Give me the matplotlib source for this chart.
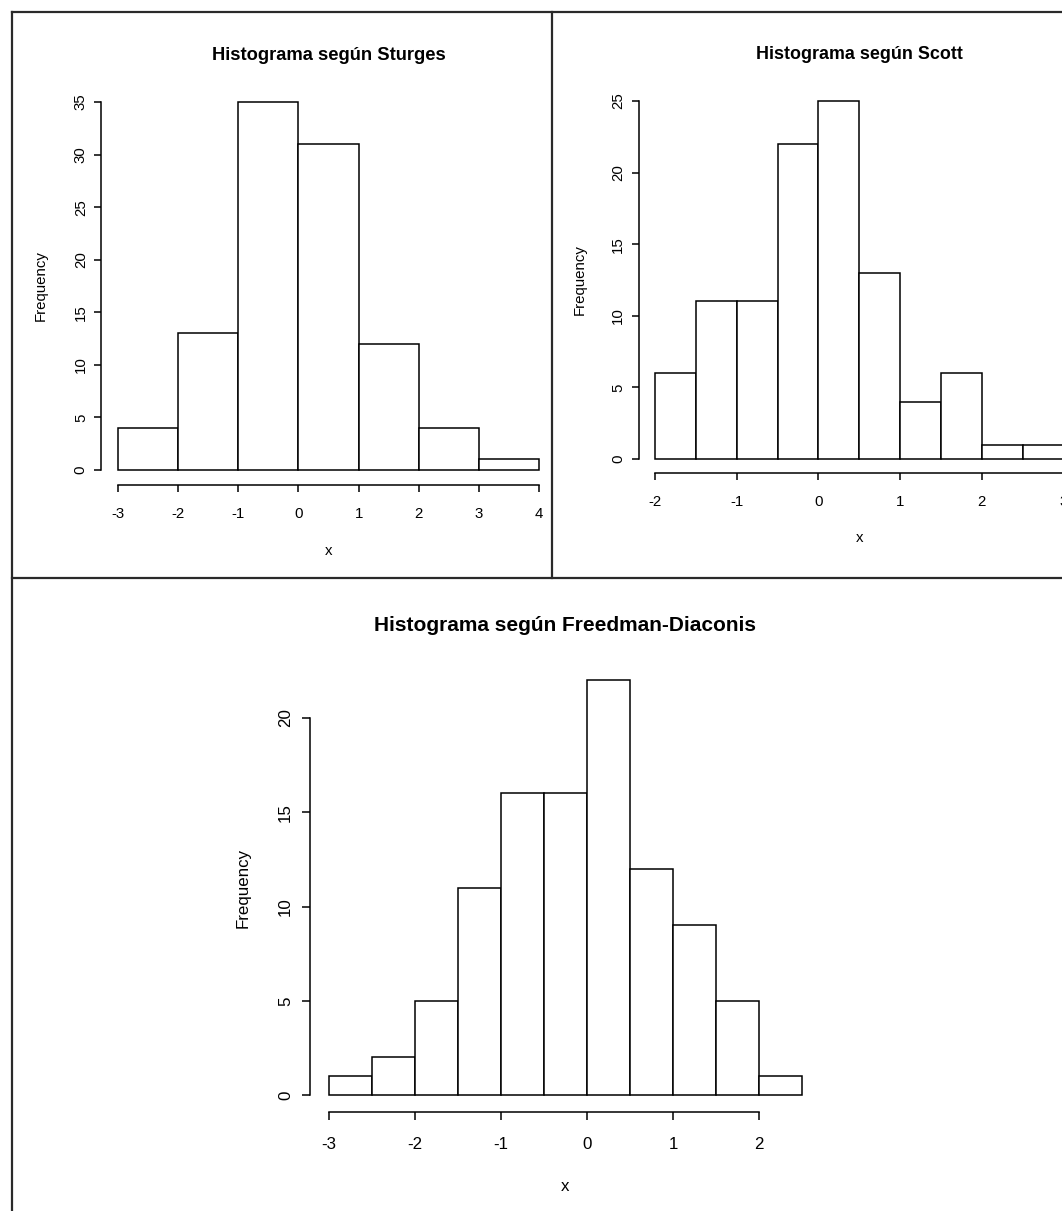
import numpy as np
import matplotlib
matplotlib.use('Agg')
import matplotlib.pyplot as plt
from matplotlib.lines import Line2D

plt.rcParams['font.family'] = ['Liberation Sans', 'DejaVu Sans']

# histogram data
sturges_edges = [-3, -2, -1, 0, 1, 2, 3, 4]
sturges_counts = [4, 13, 35, 31, 12, 4, 1]
sturges_xticks = [-3, -2, -1, 0, 1, 2, 3, 4]
sturges_yticks = [0, 5, 10, 15, 20, 25, 30, 35]

scott_edges = [-2, -1.5, -1, -0.5, 0, 0.5, 1, 1.5, 2, 2.5, 3]
scott_counts = [6, 11, 11, 22, 25, 13, 4, 6, 1, 1]
scott_xticks = [-2, -1, 0, 1, 2, 3]
scott_yticks = [0, 5, 10, 15, 20, 25]

fd_edges = [-3, -2.5, -2, -1.5, -1, -0.5, 0, 0.5, 1, 1.5, 2, 2.5]
fd_counts = [1, 2, 5, 11, 16, 16, 22, 12, 9, 5, 1]
fd_xticks = [-3, -2, -1, 0, 1, 2]
fd_yticks = [0, 5, 10, 15, 20]

titles = ['Histograma según Sturges', 'Histograma según Scott',
          'Histograma según Freedman-Diaconis']

W, H = 1062, 1211
fig = plt.figure(figsize=(W / 100, H / 100), dpi=100)
fig.patch.set_facecolor('white')


def px_axes(left, top, right, bottom):
    # axes placed by pixel box (y measured from the top)
    return fig.add_axes([left / W, 1 - bottom / H, (right - left) / W, (bottom - top) / H])


def r_hist(ax, edges, counts, xticks, yticks, title, fs, tfs, tpad, xpad, ypad, ylab_x, xlab_y, tick_len):
    edges = np.array(edges, dtype=float)
    ax.bar(edges[:-1], counts, width=np.diff(edges), align='edge',
           facecolor='white', edgecolor='black', linewidth=1.1)
    # R style: limits widened by 4 %
    xr = edges[-1] - edges[0]
    ax.set_xlim(edges[0] - 0.04 * xr, edges[-1] + 0.04 * xr)
    ym = max(counts)
    ax.set_ylim(-0.04 * ym, ym * 1.04)
    for s in ['top', 'right']:
        ax.spines[s].set_visible(False)
    ax.spines['left'].set_bounds(yticks[0], yticks[-1])
    ax.spines['bottom'].set_bounds(xticks[0], xticks[-1])
    for s in ['left', 'bottom']:
        ax.spines[s].set_linewidth(1.1)
    ax.set_xticks(xticks)
    ax.set_xticklabels([str(t) for t in xticks])
    ax.set_yticks(yticks)
    ax.set_yticklabels([str(t) for t in yticks], rotation=90, va='center')
    ax.tick_params(axis='both', direction='out', length=tick_len, width=1.1, labelsize=fs)
    ax.tick_params(axis='x', pad=xpad)
    ax.tick_params(axis='y', pad=ypad)
    ax.set_title(title, fontsize=tfs, fontweight='bold', pad=tpad)
    ax.set_ylabel('Frequency', fontsize=fs)
    ax.set_xlabel('x', fontsize=fs)
    ax.yaxis.set_label_coords(ylab_x, 0.5)
    ax.xaxis.set_label_coords(0.5, xlab_y)
    ax.patch.set_alpha(0)


ax1 = px_axes(101.2, 87.3, 555.8, 484.7)
r_hist(ax1, sturges_edges, sturges_counts, sturges_xticks, sturges_yticks, titles[0],
       10.8, 13.2, 20.0, 11.3, 4.6, -0.118, -0.150, 5)

ax2 = px_axes(638.6, 86.7, 1080, 473.3)
r_hist(ax2, scott_edges, scott_counts, scott_xticks, scott_yticks, titles[1],
       10.8, 12.9, 20.0, 10.8, 4.6, -0.118, -0.149, 5)

ax3 = px_axes(310, 663.7, 821, 1111.6)
r_hist(ax3, fd_edges, fd_counts, fd_xticks, fd_yticks, titles[2],
       12.2, 15.0, 23.5, 12.4, 6.3, -0.117, -0.150, 5.8)

# window borders of the screenshot
def border(x0, y0, x1, y1):
    fig.add_artist(Line2D([x0 / W, x1 / W], [1 - y0 / H, 1 - y1 / H],
                          transform=fig.transFigure, color='#2a2a2a', linewidth=1.6))

border(12, 11.5, W, 11.5)
border(12, 11.5, 12, H)
border(12, 577.5, W, 577.5)
border(552, 11.5, 552, 577.5)

fig.savefig('out.png', dpi=100, facecolor='white')
